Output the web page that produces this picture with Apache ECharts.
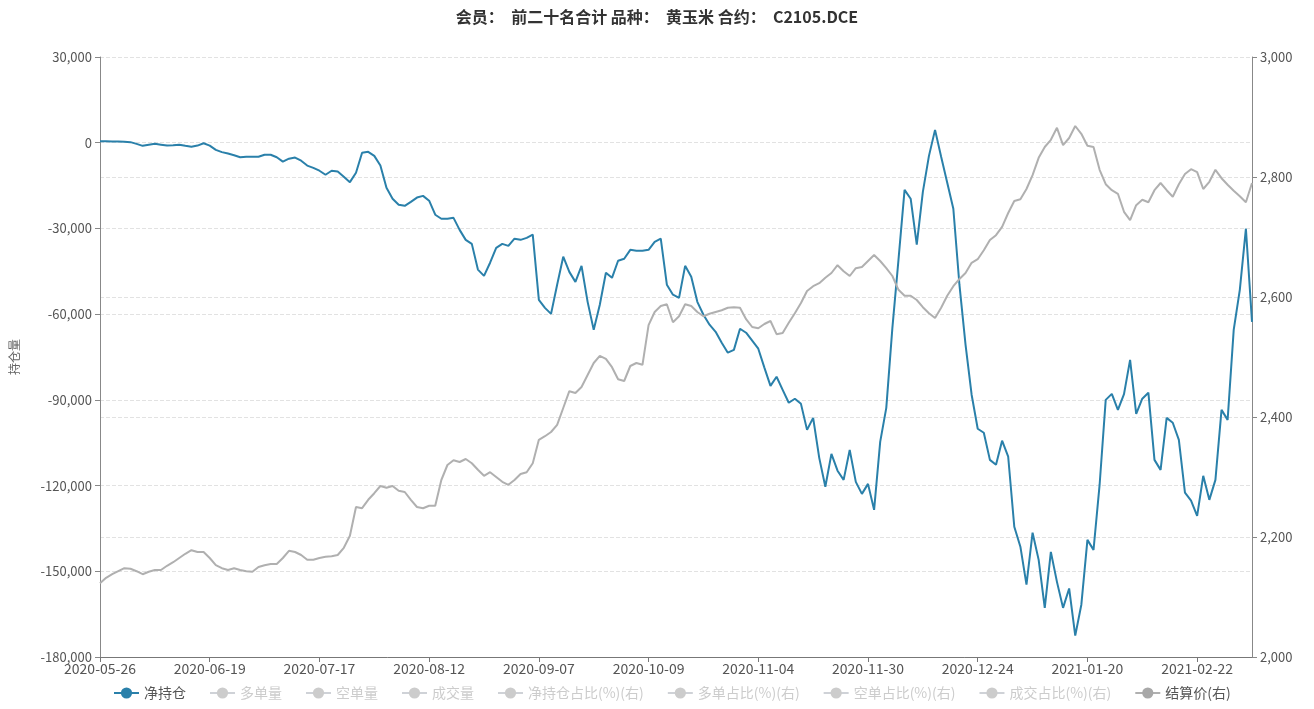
<!DOCTYPE html>
<html><head><meta charset="utf-8">
<script src="https://cdn.jsdelivr.net/npm/echarts@6/dist/echarts.min.js"></script>
<style>html,body{margin:0;padding:0;background:#fff}#c{width:1314px;height:709px}</style>
</head><body><div id="c"></div>
<script>
var titleText = '会员：  前二十名合计 品种：  黄玉米 合约：  C2105.DCE';
var legendNames = ['净持仓','多单量','空单量','成交量','净持仓占比(%)(右)','多单占比(%)(右)','空单占比(%)(右)','成交占比(%)(右)','结算价(右)'];
var leftTicks = {min:-180000, max:30000, interval:30000};
var rightTicks = {min:2000, max:3000, interval:200};
var dates = [
'2020-05-26','2020-05-27','2020-05-28','2020-05-29',
'2020-06-01','2020-06-02','2020-06-03','2020-06-04','2020-06-05','2020-06-08','2020-06-09','2020-06-10','2020-06-11','2020-06-12','2020-06-15','2020-06-16','2020-06-17','2020-06-18','2020-06-19','2020-06-22','2020-06-23','2020-06-24','2020-06-29','2020-06-30',
'2020-07-01','2020-07-02','2020-07-03','2020-07-06','2020-07-07','2020-07-08','2020-07-09','2020-07-10','2020-07-13','2020-07-14','2020-07-15','2020-07-16','2020-07-17','2020-07-20','2020-07-21','2020-07-22','2020-07-23','2020-07-24','2020-07-27','2020-07-28','2020-07-29','2020-07-30','2020-07-31',
'2020-08-03','2020-08-04','2020-08-05','2020-08-06','2020-08-07','2020-08-10','2020-08-11','2020-08-12','2020-08-13','2020-08-14','2020-08-17','2020-08-18','2020-08-19','2020-08-20','2020-08-21','2020-08-24','2020-08-25','2020-08-26','2020-08-27','2020-08-28','2020-08-31',
'2020-09-01','2020-09-02','2020-09-03','2020-09-04','2020-09-07','2020-09-08','2020-09-09','2020-09-10','2020-09-11','2020-09-14','2020-09-15','2020-09-16','2020-09-17','2020-09-18','2020-09-21','2020-09-22','2020-09-23','2020-09-24','2020-09-25','2020-09-28','2020-09-29','2020-09-30',
'2020-10-09','2020-10-12','2020-10-13','2020-10-14','2020-10-15','2020-10-16','2020-10-19','2020-10-20','2020-10-21','2020-10-22','2020-10-23','2020-10-26','2020-10-27','2020-10-28','2020-10-29','2020-10-30',
'2020-11-02','2020-11-03','2020-11-04','2020-11-05','2020-11-06','2020-11-09','2020-11-10','2020-11-11','2020-11-12','2020-11-13','2020-11-16','2020-11-17','2020-11-18','2020-11-19','2020-11-20','2020-11-23','2020-11-24','2020-11-25','2020-11-26','2020-11-27','2020-11-30',
'2020-12-01','2020-12-02','2020-12-03','2020-12-04','2020-12-07','2020-12-08','2020-12-09','2020-12-10','2020-12-11','2020-12-14','2020-12-15','2020-12-16','2020-12-17','2020-12-18','2020-12-21','2020-12-22','2020-12-23','2020-12-24','2020-12-25','2020-12-28','2020-12-29','2020-12-30','2020-12-31',
'2021-01-04','2021-01-05','2021-01-06','2021-01-07','2021-01-08','2021-01-11','2021-01-12','2021-01-13','2021-01-14','2021-01-15','2021-01-18','2021-01-19','2021-01-20','2021-01-21','2021-01-22','2021-01-25','2021-01-26','2021-01-27','2021-01-28','2021-01-29',
'2021-02-01','2021-02-02','2021-02-03','2021-02-04','2021-02-05','2021-02-08','2021-02-09','2021-02-10','2021-02-18','2021-02-19','2021-02-22','2021-02-23','2021-02-24','2021-02-25','2021-02-26',
'2021-03-01','2021-03-02','2021-03-03','2021-03-04','2021-03-05'
];
var netPosition = [
500,500,400,400,300,200,-400,-1100,-700,-400,
-700,-1000,-900,-700,-1100,-1400,-1000,-200,-1000,-2500,
-3300,-3800,-4400,-5100,-4900,-4900,-4900,-4200,-4200,-5100,
-6600,-5600,-5200,-6300,-8000,-8800,-9800,-11200,-9800,-10100,
-11900,-13800,-10500,-3500,-3200,-4600,-8000,-15800,-19600,-21700,
-22100,-20700,-19200,-18600,-20300,-25200,-26600,-26600,-26300,-30500,
-34000,-35400,-44400,-46600,-42000,-36800,-35400,-36100,-33600,-34000,
-33300,-32200,-55000,-57800,-59900,-49700,-39900,-45200,-48700,-43100,
-55700,-65500,-56700,-45500,-47300,-41300,-40600,-37500,-37800,-37800,
-37500,-34700,-33600,-49700,-53200,-54300,-43100,-46900,-55700,-60200,
-63700,-66200,-70000,-73500,-72500,-65100,-66500,-69300,-72100,-78700,
-85100,-81900,-86500,-91000,-89600,-91400,-100500,-96300,-110300,-120400,
-108900,-114800,-118000,-107500,-118700,-122900,-119400,-128500,-104700,-92800,
-64800,-41000,-16500,-19600,-35700,-17200,-4600,4500,-4900,-14000,
-23100,-49700,-70700,-88200,-100100,-101500,-111000,-112700,-104300,-109900,
-134400,-141400,-154700,-136500,-146000,-162800,-143200,-153700,-162800,-156000,
-172500,-161700,-139000,-142500,-119700,-90000,-87900,-93500,-88000,-76000,
-94900,-89600,-87500,-111000,-114500,-96300,-98000,-104000,-122500,-125300,
-130600,-116600,-125000,-118000,-93500,-97000,-65500,-51500,-30100,-62700
];
var settlePrice = [
2123,2132,2138,2143,2148,2147,2143,2138,2142,2145,
2145,2152,2158,2165,2172,2178,2175,2175,2165,2153,
2148,2145,2148,2145,2143,2142,2150,2153,2155,2155,
2165,2177,2175,2170,2162,2162,2165,2167,2168,2170,
2182,2202,2250,2248,2262,2273,2285,2282,2285,2277,
2275,2262,2250,2248,2252,2252,2295,2320,2328,2325,
2330,2323,2312,2302,2308,2300,2292,2287,2295,2305,
2308,2323,2362,2368,2375,2387,2415,2443,2440,2450,
2470,2490,2502,2497,2483,2463,2460,2485,2490,2487,
2553,2575,2585,2588,2558,2568,2588,2585,2575,2568,
2572,2575,2578,2582,2583,2582,2563,2550,2548,2555,
2560,2538,2540,2557,2573,2590,2610,2618,2623,2632,
2640,2653,2643,2635,2648,2650,2660,2670,2660,2648,
2635,2612,2602,2602,2595,2583,2573,2565,2582,2602,
2618,2630,2640,2657,2663,2678,2695,2703,2717,2740,
2760,2763,2780,2803,2832,2850,2862,2882,2853,2865,
2885,2872,2852,2850,2812,2788,2778,2772,2742,2728,
2753,2762,2758,2778,2790,2778,2767,2788,2805,2813,
2808,2780,2792,2812,2798,2787,2777,2768,2758,2790
];

var chart = echarts.init(document.getElementById('c'));
var selected = {};
legendNames.forEach(function(n){ selected[n] = (n === '净持仓' || n === '结算价(右)'); });
var series = legendNames.map(function(n){
  var right = n.indexOf('(右)') >= 0;
  var s = {name:n, type:'line', yAxisIndex: right ? 1 : 0, data: [], symbol:'circle', symbolSize:7, showSymbol:false};
  if (n === '净持仓') { s.data = netPosition; s.itemStyle = {color:'#2a80aa'}; s.lineStyle = {width:2, color:'#2a80aa'}; s.z = 3; }
  else if (n === '结算价(右)') { s.data = settlePrice; s.itemStyle = {color:'#a8a8a8'}; s.lineStyle = {width:2, color:'#b0b0b0'}; }
  else { s.itemStyle = {color:'#cccccc'}; }
  return s;
});
chart.setOption({
  animation:false,
  backgroundColor:'#fff',
  textStyle:{fontFamily:'"Noto Sans CJK SC","Noto Sans",sans-serif'},
  title:{text:titleText, left:'center', top:4, textStyle:{fontSize:16, fontWeight:'bold', color:'#333'}},
  legend:{data:legendNames, left:108, bottom:4, selected:selected, itemWidth:25, itemHeight:14, itemGap:23, inactiveColor:'#ccc', textStyle:{fontSize:14, color:'#555'}},
  grid:{left:98, right:62, top:57, bottom:52},
  xAxis:{type:'category', data:dates, boundaryGap:false,
    axisLine:{onZero:false, lineStyle:{color:'#777'}},
    axisTick:{lineStyle:{color:'#777'}},
    axisLabel:{interval:17, color:'#555', fontSize:14, margin:5}},
  yAxis:[
    {type:'value', name:'持仓量', nameLocation:'middle', nameGap:80, nameRotate:90, nameTextStyle:{color:'#666', fontSize:12},
     min:leftTicks.min, max:leftTicks.max, interval:leftTicks.interval,
     axisLine:{show:true, lineStyle:{color:'#888'}}, axisTick:{show:true},
     axisLabel:{color:'#555', fontSize:13},
     splitLine:{show:true, lineStyle:{type:'dashed', color:'#e2e2e2'}}},
    {type:'value', min:rightTicks.min, max:rightTicks.max, interval:rightTicks.interval, position:'right',
     axisLine:{show:true, lineStyle:{color:'#888'}}, axisTick:{show:true},
     axisLabel:{color:'#555', fontSize:13},
     splitLine:{show:true, lineStyle:{type:'dashed', color:'#e2e2e2'}}}
  ],
  series:series
});
</script></body></html>
